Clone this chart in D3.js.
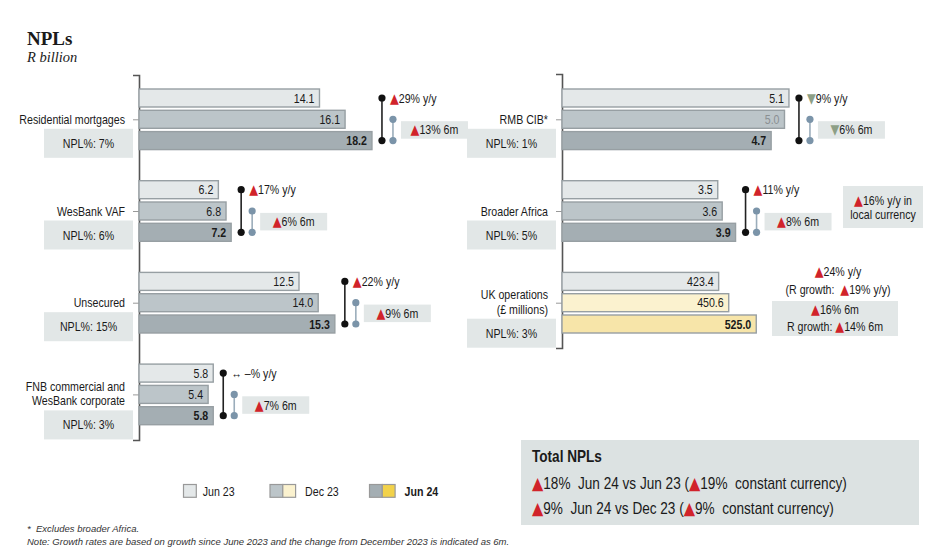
<!DOCTYPE html>
<html>
<head>
<meta charset="utf-8">
<script src="https://cdn.jsdelivr.net/npm/d3@7"></script>
<style>
  body { margin: 0; background: #fff; }
  text { font-family: "Liberation Sans Narrow", "Arial Narrow", "Liberation Sans", sans-serif; fill: #1a1a1a; white-space: pre; }
  tspan.tri { font-family: "DejaVu Sans", sans-serif; }
</style>
</head>
<body>
<svg id="chart" width="934" height="551"></svg>
<script>
// categories (first four in the left panel, the rest on the right)
const categories = ["Residential mortgages", "WesBank VAF", "Unsecured", "FNB commercial and|WesBank corporate",
                    "RMB CIB*", "Broader Africa", "UK operations|(£ millions)"];
const periods = ["Jun 23", "Dec 23", "Jun 24"];
const jun23 = [14.1, 6.2, 12.5, 5.8, 5.1, 3.5, 423.4];
const dec23 = [16.1, 6.8, 14.0, 5.4, 5.0, 3.6, 450.6];
const jun24 = [18.2, 7.2, 15.3, 5.8, 4.7, 3.9, 525.0];
const nplPct = ["7%", "6%", "15%", "3%", "1%", "5%", "3%"];
const growthYoY = [29, 17, 22, 0, -9, 11, 24];
const growth6m = [13, 6, 9, 7, -6, 8, 16];
const ukRandGrowth = [19, 14];          // y/y, 6m
const africaLocalYoY = 16;
const totalGrowth = [[18, 19], [9, 9]];  // [reported, constant currency]
const totalLabels = ["Jun 24 vs Jun 23", "Jun 24 vs Dec 23"];

const RED = "#d1232a", GREEN = "#8d9f86";
const fills = ["#e4e8e9", "#bcc5c9", "#a4aeb3"];
const ukFills = ["#e4e8e9", "#fbf2cf", "#f7e5a9"];
const boxFill = "#e2e7e7";
const NARROW = 0.85;

const svg = d3.select("#chart");

// narrow text: regular sans squeezed horizontally
function ntext(parent, x, y, size, k) {
  return parent.append("text")
    .attr("transform", `translate(${x},${y}) scale(${k || NARROW},1)`)
    .attr("dy", "0.36em")
    .style("font-size", size + "px");
}

// scales
const groupY = d3.scaleBand().domain(d3.range(4)).range([89, 89 + 4 * 91.7]);
const barY = d3.scaleBand().domain(periods).range([0, 60.6]).paddingInner(0.155);
const xLeft = d3.scaleLinear().domain([0, 20]).range([139, 395]);
const xRight = d3.scaleLinear().domain([0, 6]).range([562, 829]);
const xUK = d3.scaleLinear().domain([0, 600]).range([562, 784]);

function xFor(i) { return i < 4 ? xLeft : (i === 6 ? xUK : xRight); }
function slotOf(i) { return i < 4 ? i : i - 4; }
function barCenter(i, p) { return groupY(slotOf(i)) + barY(p) + barY.bandwidth() / 2; }

// axes
const leftTicks = d3.range(4).map(i => barCenter(i, "Dec 23"));
const rightTicks = [4, 5, 6].map(i => barCenter(i, "Dec 23"));
const gl = svg.append("g").attr("transform", "translate(139,0)")
  .call(d3.axisLeft(d3.scaleLinear().domain([75, 440]).range([75, 440])).tickValues(leftTicks).tickFormat("").tickSizeOuter(0).tickSize(6));
const gr = svg.append("g").attr("transform", "translate(562,0)")
  .call(d3.axisLeft(d3.scaleLinear().domain([74, 348]).range([74, 348])).tickValues(rightTicks).tickFormat("").tickSizeOuter(0).tickSize(6));
[gl, gr].forEach(g => {
  g.select(".domain").attr("stroke", "#555").attr("stroke-width", 1.6);
  g.selectAll(".tick line").attr("stroke", "#999");
});

// triangle text helper
function arrowText(sel, v) {
  if (v === 0) { sel.append("tspan").text("\u2194 \u2013"); return; }
  sel.append("tspan").attr("class", "tri").style("fill", v > 0 ? RED : GREEN)
    .style("font-size", "1.08em").text(v > 0 ? "\u25B2" : "\u25BC");
  sel.append("tspan").text(Math.abs(v));
}

categories.forEach((cat, i) => {
  const x = xFor(i);
  const vals = [jun23[i], dec23[i], jun24[i]];
  const g = svg.append("g");
  const fl = i === 6 ? ukFills : fills;

  g.selectAll("rect.bar").data(vals).enter().append("rect")
    .attr("class", "bar")
    .attr("x", x(0))
    .attr("y", (d, k) => groupY(slotOf(i)) + barY(periods[k]))
    .attr("width", d => x(d) - x(0))
    .attr("height", barY.bandwidth())
    .attr("fill", (d, k) => fl[k])
    .attr("stroke", "#979fa3").attr("stroke-width", 1.4);

  vals.forEach((d, k) => {
    ntext(g, x(d) - 5, barCenter(i, periods[k]), 12.5)
      .attr("text-anchor", "end")
      .style("font-weight", k === 2 ? "bold" : "normal")
      .style("fill", (i === 4 && k === 1) ? "#8a8f92" : "#1a1a1a")
      .text(d.toFixed(1));
  });

  // category label
  const lines = cat.split("|");
  const mid = barCenter(i, "Dec 23");
  const ax = x(0);
  const offs = lines.length === 1 ? [0] : [-8, 6.5];
  lines.forEach((ln, k) => {
    ntext(g, ax - 14, mid + offs[k], 12.5).attr("text-anchor", "end").text(ln);
  });

  // NPL% box
  const boxTop = mid + offs[offs.length - 1] + 9.5;
  g.append("rect").attr("x", ax - 95).attr("y", boxTop).attr("width", 89).attr("height", 29).attr("fill", boxFill);
  ntext(g, ax - 50.5, boxTop + 14.5, 12.5).attr("text-anchor", "middle").text("NPL%: " + nplPct[i]);

  if (i === 6) return;

  // growth brackets
  const maxX = x(d3.max(vals));
  const bx = maxX + 10, blx = maxX + 21;
  const c0 = barCenter(i, "Jun 23"), c1 = barCenter(i, "Dec 23"), c2 = barCenter(i, "Jun 24");
  g.append("line").attr("x1", bx).attr("x2", bx).attr("y1", c0).attr("y2", c2).attr("stroke", "#222").attr("stroke-width", 1.6);
  g.selectAll("circle.blk").data([c0, c2]).enter().append("circle")
    .attr("cx", bx).attr("cy", d => d).attr("r", 3.6).attr("fill", "#111");
  g.append("line").attr("x1", blx).attr("x2", blx).attr("y1", c1).attr("y2", c2).attr("stroke", "#9badbb").attr("stroke-width", 1.6);
  g.selectAll("circle.blu").data([c1, c2]).enter().append("circle")
    .attr("cx", blx).attr("cy", d => d).attr("r", 3.6).attr("fill", "#7b94a9");

  const yy = ntext(g, bx + 8, c0, 12.5);
  arrowText(yy, growthYoY[i]);
  yy.append("tspan").text("% y/y");

  const bxX = blx + 8, bxY = (c1 + c2) / 2;
  g.append("rect").attr("x", bxX).attr("y", bxY - 8.75).attr("width", 67).attr("height", 17.5).attr("fill", boxFill);
  const sm = ntext(g, bxX + 33.5, bxY, 12.5).attr("text-anchor", "middle");
  arrowText(sm, growth6m[i]);
  sm.append("tspan").text("% 6m");
});

// Broader Africa local currency note
svg.append("rect").attr("x", 843).attr("y", 186).attr("width", 80).attr("height", 42).attr("fill", boxFill);
const la = ntext(svg, 883, 200, 12.5).attr("text-anchor", "middle");
arrowText(la, africaLocalYoY);
la.append("tspan").text("% y/y in");
ntext(svg, 883, 214.5, 12.5).attr("text-anchor", "middle").text("local currency");

// UK notes
const u1 = ntext(svg, 838, 271.5, 12.5).attr("text-anchor", "middle");
arrowText(u1, growthYoY[6]); u1.append("tspan").text("% y/y");
const u2 = ntext(svg, 838, 289.5, 12.5).attr("text-anchor", "middle");
u2.append("tspan").text("(R growth:  "); arrowText(u2, ukRandGrowth[0]); u2.append("tspan").text("% y/y)");
svg.append("rect").attr("x", 772).attr("y", 301).attr("width", 126).attr("height", 35).attr("fill", boxFill);
const u3 = ntext(svg, 835, 309.5, 12.5).attr("text-anchor", "middle");
arrowText(u3, growth6m[6]); u3.append("tspan").text("% 6m");
const u4 = ntext(svg, 835, 326.5, 12.5).attr("text-anchor", "middle");
u4.append("tspan").text("R growth: "); arrowText(u4, ukRandGrowth[1]); u4.append("tspan").text("% 6m");

// title
svg.append("text").attr("x", 27).attr("y", 45).style("font-family", "'Liberation Serif', serif")
  .style("font-weight", "bold").style("font-size", "19px").text("NPLs");
svg.append("text").attr("x", 27).attr("y", 62).style("font-family", "'Liberation Serif', serif")
  .style("font-style", "italic").style("font-size", "14.5px").text("R billion");

// legend
const legend = [
  { label: periods[0], cols: [fills[0]], x: 183.5, bold: false },
  { label: periods[1], cols: [fills[1], ukFills[1]], x: 270, bold: false },
  { label: periods[2], cols: [fills[2], "#f2d24a"], x: 369.5, bold: true }
];
legend.forEach(l => {
  l.cols.forEach((c, k) => {
    svg.append("rect").attr("x", l.x + k * 12.8).attr("y", 484.5).attr("width", 12.8).attr("height", 12.8)
      .attr("fill", c).attr("stroke", "#999").attr("stroke-width", 1.2);
  });
  ntext(svg, l.x + l.cols.length * 12.8 + 6.5 + (l.cols.length - 1) * 3, 491, 12.5)
    .style("font-weight", l.bold ? "bold" : "normal").text(l.label);
});

// total box
svg.append("rect").attr("x", 521).attr("y", 440).attr("width", 398).attr("height", 85).attr("fill", "#dce2e2");
ntext(svg, 532, 456.5, 16).style("font-weight", "bold").text("Total NPLs");
totalGrowth.forEach((g, k) => {
  const t = ntext(svg, 532, 483.5 + k * 25, 16);
  arrowText(t, g[0]);
  t.append("tspan").text("%  " + totalLabels[k] + " (");
  arrowText(t, g[1]);
  t.append("tspan").text("%  constant currency)");
});

// footnotes
svg.append("text").attr("x", 27).attr("y", 532).style("font-family", "'Liberation Sans', sans-serif")
  .style("font-style", "italic").style("font-size", "9.5px").style("fill", "#333").text("*  Excludes broader Africa.");
svg.append("text").attr("x", 27).attr("y", 545).style("font-family", "'Liberation Sans', sans-serif")
  .style("font-style", "italic").style("font-size", "9.5px").style("fill", "#333")
  .text("Note: Growth rates are based on growth since June 2023 and the change from December 2023 is indicated as 6m.");
</script>
</body>
</html>
